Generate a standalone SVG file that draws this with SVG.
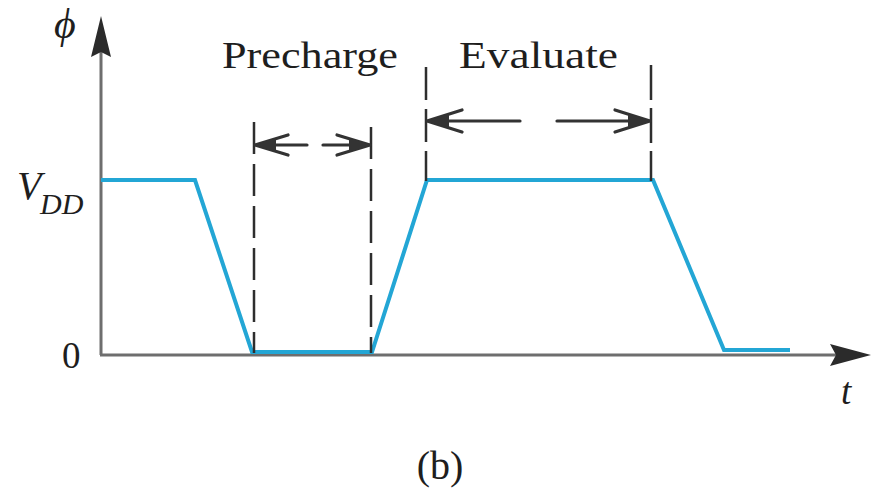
<svg xmlns="http://www.w3.org/2000/svg" width="874" height="488" viewBox="0 0 874 488">
<style>
.axis{stroke:#6e6e6e;stroke-width:3;fill:none}
.ahead{fill:#2b2b2b}
.wave{stroke:#23a6d5;stroke-width:4;fill:none;stroke-linejoin:miter}
.dash{stroke:#2e2e2e;stroke-width:2.5;fill:none;stroke-dasharray:32 10}
.dim{stroke:#333;stroke-width:3.2;fill:none;stroke-linecap:round}
.chev{fill:#333}
.lbl{font-family:"Liberation Serif","Times New Roman",serif;fill:#1e1e1e}
.it{font-style:italic}
</style>
<rect width="874" height="488" fill="#fff"/>
<g id="axes">
  <line class="axis" x1="101" y1="355" x2="101" y2="45"/>
  <path class="ahead" d="M101,16 L111,57 L101,52 L91,57 Z"/>
  <line class="axis" x1="100" y1="355" x2="840" y2="355"/>
  <path class="ahead" d="M871,355 L830,344 L836,355 L830,366 Z"/>
</g>
<g id="waveform">
  <polyline class="wave" points="101,180 195,180 252,352 372,352 427,180 653,180 724,350 790,350"/>
</g>
<g id="connectors">
  <line class="dash" x1="254" y1="122" x2="254" y2="353"/>
  <line class="dash" x1="371" y1="127" x2="371" y2="353"/>
  <line class="dash" x1="426" y1="67" x2="426" y2="181" style="stroke-dasharray:33 9"/>
  <line class="dash" x1="651" y1="65" x2="651" y2="181" style="stroke-dasharray:35 8"/>
  <path class="dim" d="M255,145 L307,145 M255,145 L288,135 M255,145 L288,155"/>
  <path class="chev" d="M254,145 L276,138 L276,152 Z"/>
  <path class="dim" d="M323,145 L370,145 M370,145 L337,135 M370,145 L337,155"/>
  <path class="chev" d="M371,145 L349,138 L349,152 Z"/>
  <path class="dim" d="M427,121 L520,121 M427,121 L462,110 M427,121 L462,132"/>
  <path class="chev" d="M426,121 L449,114 L449,128 Z"/>
  <path class="dim" d="M557,121 L650,121 M650,121 L615,110 M650,121 L615,132"/>
  <path class="chev" d="M651,121 L628,114 L628,128 Z"/>
</g>
<g id="labels">
  <text class="lbl" x="222" y="68" font-size="38" textLength="176" lengthAdjust="spacingAndGlyphs">Precharge</text>
  <text class="lbl" x="459" y="68" font-size="38" textLength="159" lengthAdjust="spacingAndGlyphs">Evaluate</text>
  <text class="lbl it" x="54" y="38" font-size="42">ϕ</text>
  <text class="lbl it" x="17" y="199" font-size="40">V</text>
  <text class="lbl it" x="40" y="214" font-size="30">DD</text>
  <text class="lbl" x="62" y="368" font-size="37">0</text>
  <text class="lbl it" x="841" y="404" font-size="37">t</text>
  <text class="lbl" x="440" y="479" font-size="40" text-anchor="middle">(b)</text>
</g>
</svg>
